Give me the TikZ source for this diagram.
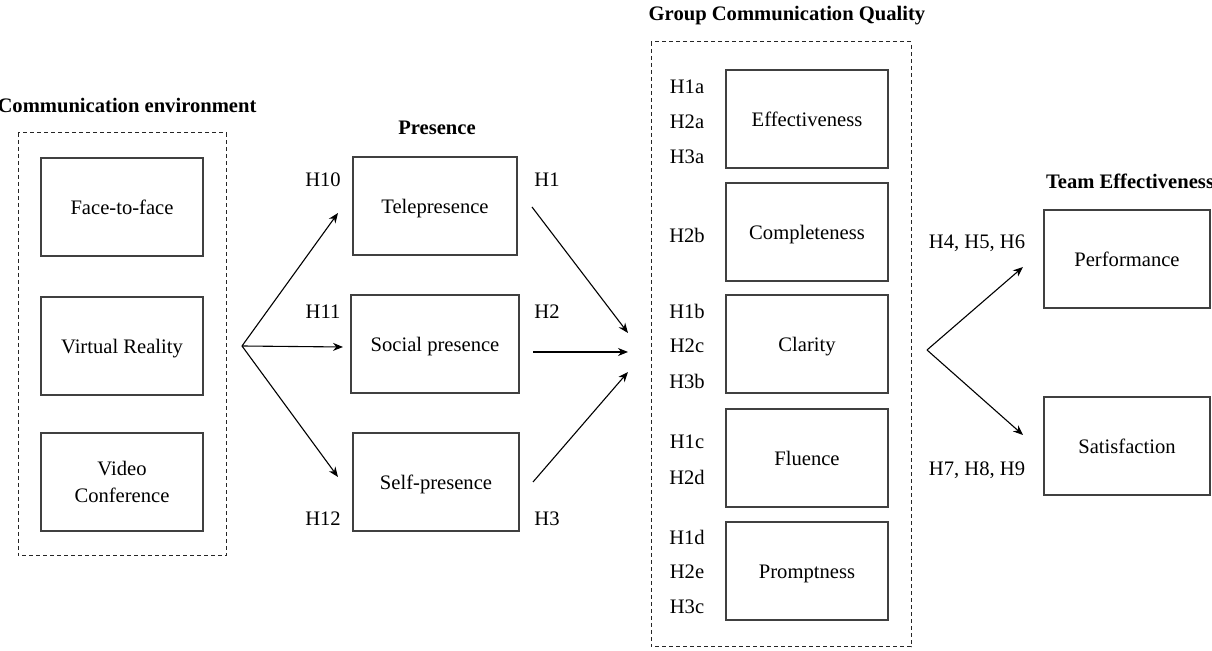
\documentclass[tikz,border=0pt]{standalone}
\usepackage{fontspec}
\setmainfont{Liberation Serif}
\usetikzlibrary{arrows.meta}
\tikzset{
box/.style={draw=black!75,line width=0.7pt,minimum width=81pt,minimum height=49pt,align=center,text height=1.9ex,text depth=0.2ex,font=\fontsize{10.3}{13.5}\selectfont},
group/.style={draw=black!85,dash pattern=on 2pt off 1.5pt,line width=0.5pt},
head/.style={font=\fontsize{10.3}{12}\selectfont\bfseries},
hyp/.style={font=\fontsize{10.3}{12}\selectfont}
}
\begin{document}
\begin{tikzpicture}[x=0.5pt,y=-0.5pt,>={Stealth[length=5pt,width=4pt]}]
\useasboundingbox (0,0) rectangle (1212,651);
% group frames
\draw[group](18,133) rectangle (226,556);
\draw[group](651,42) rectangle (911,647);
% titles
\node[head](envtitle) at (127,105){Communication environment};
\node[head](prestitle) at (437,128){Presence};
\node[head](gcqtitle) at (787,16){Group Communication Quality};
\node[head](teamtitle) at (1130,181){Team Effectiveness};
% boxes
\node[box](ftf) at (122,207){Face-to-face};
\node[box](vr) at (122,346){Virtual Reality};
\node[box,text height={},text depth={}](vc) at (122,482){Video\\Conference};
\node[box,minimum width=82pt](tele) at (435,206){Telepresence};
\node[box,minimum width=84pt](social) at (435,344){Social presence};
\node[box,minimum width=83pt](self) at (436,482){Self-presence};
\node[box](eff) at (807,119){Effectiveness};
\node[box](comp) at (807,232){Completeness};
\node[box](clar) at (807,344){Clarity};
\node[box](flu) at (807,458){Fluence};
\node[box](prom) at (807,571){Promptness};
\node[box,minimum width=83pt](perf) at (1127,259){Performance};
\node[box,minimum width=83pt](sat) at (1127,446){Satisfaction};
% hypotheses
\node[hyp](h10) at (323,180){H10};
\node[hyp](h11) at (323,312){H11};
\node[hyp](h12) at (323,519){H12};
\node[hyp](h1) at (547,180){H1};
\node[hyp](h2) at (547,312){H2};
\node[hyp](h3) at (547,519){H3};
\node[hyp](h1a) at (687,87){H1a};
\node[hyp](h2a) at (687,122){H2a};
\node[hyp](h3a) at (687,157){H3a};
\node[hyp](h2b) at (687,235){H2b};
\node[hyp](h1b) at (687,311){H1b};
\node[hyp](h2c) at (687,346){H2c};
\node[hyp](h3b) at (687,381){H3b};
\node[hyp](h1c) at (687,442){H1c};
\node[hyp](h2d) at (687,477){H2d};
\node[hyp](h1d) at (687,537){H1d};
\node[hyp](h2e) at (687,572){H2e};
\node[hyp](h3c) at (687,607){H3c};
\node[hyp](h456) at (977,243){H4, H5, H6};
\node[hyp](h789) at (977,470){H7, H8, H9};
% arrow ends
\coordinate(envout) at (242,346);
\coordinate(telein) at (338,213);
\coordinate(socialin) at (343,347);
\coordinate(selfin) at (338,477);
\coordinate(teleout) at (532,207);
\coordinate(socialout) at (533,352);
\coordinate(selfout) at (533,482);
\coordinate(gcqin1) at (628,333);
\coordinate(gcqin2) at (628,352);
\coordinate(gcqin3) at (628,372);
\coordinate(gcqout) at (927,350);
\coordinate(perfin) at (1023,267);
\coordinate(satin) at (1023,435);
\draw[->,line width=0.55pt](envout)--(telein);
\draw[->,line width=0.55pt](envout)--(socialin);
\draw[->,line width=0.55pt](envout)--(selfin);
\draw[->,line width=0.55pt](teleout)--(gcqin1);
\draw[->,line width=0.55pt](socialout)--(gcqin2);
\draw[->,line width=0.55pt](selfout)--(gcqin3);
\draw[->,line width=0.55pt](gcqout)--(perfin);
\draw[->,line width=0.55pt](gcqout)--(satin);
\end{tikzpicture}
\end{document}
